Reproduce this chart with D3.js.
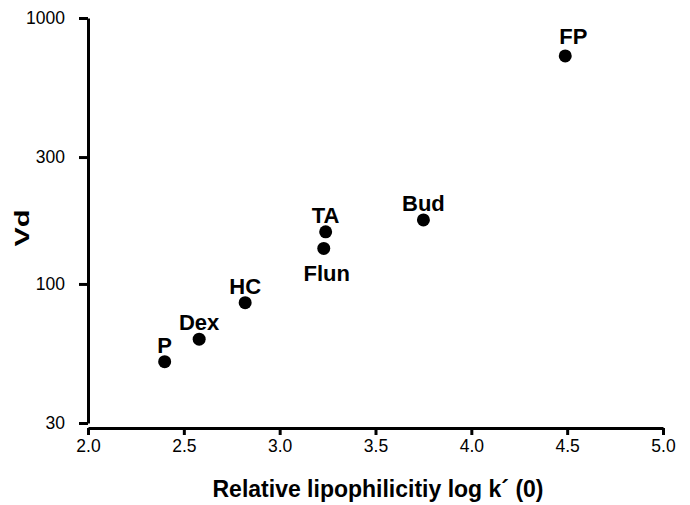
<!DOCTYPE html>
<html>
<head>
<meta charset="utf-8">
<script src="https://cdn.jsdelivr.net/npm/d3@7"></script>
<style>
  body { margin: 0; background: #fff; }
  svg { font-family: "Liberation Sans", Arial, sans-serif; }
</style>
</head>
<body>
<div id="chart"></div>
<script>
const WIDTH = 690;
const HEIGHT = 505;

// drug names, lipophilicity (log k'), Vd
const drugs = ['P', 'Dex', 'HC', 'TA', 'Flun', 'Bud', 'FP'];
const logK = [2.40, 2.58, 2.82, 3.24, 3.23, 3.75, 4.49];
const vd = [51, 62, 85, 157, 136, 174, 720];
const labelBelow = [false, false, false, false, true, false, false];

const xTicks = [2.0, 2.5, 3.0, 3.5, 4.0, 4.5, 5.0];
const yTicks = [30, 100, 300, 1000];

const svg = d3.select('#chart')
    .append('svg')
        .attr('width', WIDTH)
        .attr('height', HEIGHT);

const x = d3.scaleLinear().domain([2, 5]).range([88, 663]);
const y = d3.scaleLog().domain([30, 1000]).range([423, 18]);

// y axis
const yAxis = svg.append('g')
    .attr('transform', 'translate(88,0)')
    .call(d3.axisLeft(y).tickValues(yTicks).tickFormat(d3.format('d')).tickSize(9).tickSizeOuter(0));

// x axis, sits a bit below the y axis end
const xAxis = svg.append('g')
    .attr('transform', 'translate(0,428)')
    .call(d3.axisBottom(x).tickValues(xTicks).tickFormat(d3.format('.1f')).tickSize(7).tickSizeOuter(0));

[xAxis, yAxis].forEach(a => {
    a.select('.domain').attr('stroke', '#000').attr('stroke-width', 3);
    a.selectAll('.tick line').attr('stroke', '#000').attr('stroke-width', 3);
    a.selectAll('.tick text')
        .attr('fill', '#000')
        .style('font-size', '17.5px')
        .style('font-family', '"Liberation Sans", Arial, sans-serif');
});
yAxis.selectAll('.tick text').attr('x', -23);
xAxis.selectAll('.tick text').attr('y', 12);

// titles
svg.append('text')
    .attr('x', 378)
    .attr('y', 497)
    .attr('text-anchor', 'middle')
    .style('font-size', '23px')
    .style('font-weight', 'bold')
    .text('Relative lipophilicitiy log k\u00b4 (0)');

svg.append('text')
    .attr('transform', 'translate(29,228) rotate(-90)')
    .attr('text-anchor', 'middle')
    .attr('textLength', 37)
    .attr('lengthAdjust', 'spacingAndGlyphs')
    .style('font-size', '21px')
    .style('font-weight', 'bold')
    .text('Vd');

// points
const pts = drugs.map((name, i) => ({name, k: logK[i], v: vd[i], below: labelBelow[i]}));

svg.selectAll('.dot')
    .data(pts)
    .enter()
    .append('circle')
    .attr('class', 'dot')
    .attr('cx', d => x(d.k))
    .attr('cy', d => y(d.v))
    .attr('r', 6.5)
    .attr('fill', '#000');

svg.selectAll('.lbl')
    .data(pts)
    .enter()
    .append('text')
    .attr('class', 'lbl')
    .attr('x', d => x(d.k) + (d.name === 'FP' ? 8 : d.below ? 3 : 0))
    .attr('y', d => y(d.v) + (d.below ? 33 : d.name === 'FP' ? -12 : -9))
    .attr('text-anchor', 'middle')
    .style('font-size', '22px')
    .style('font-weight', 'bold')
    .text(d => d.name);
</script>
</body>
</html>
